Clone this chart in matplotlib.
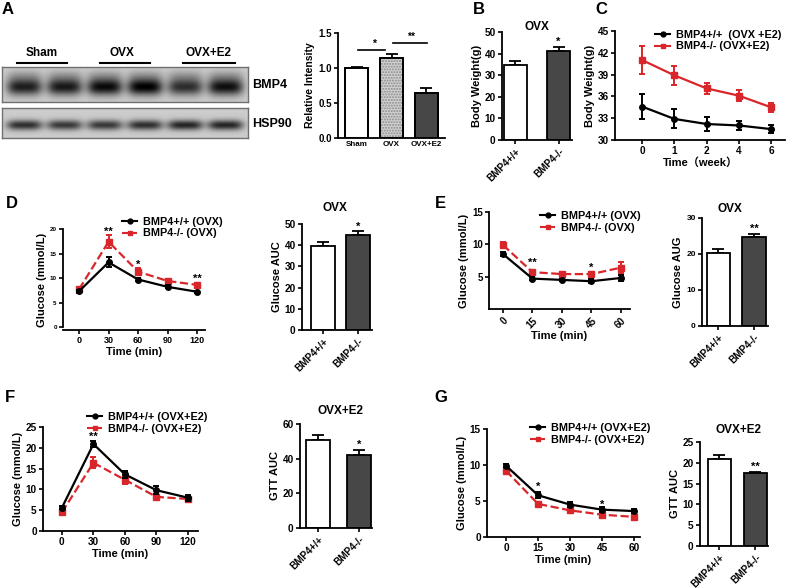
import numpy as np
import matplotlib
matplotlib.use('Agg')
import matplotlib.pyplot as plt
from matplotlib.lines import Line2D

W, H = 789, 588
plt.rcParams['font.family'] = ['Liberation Sans', 'Noto Sans CJK SC', 'DejaVu Sans']
plt.rcParams['font.weight'] = 'bold'
plt.rcParams['axes.labelweight'] = 'bold'
plt.rcParams['axes.linewidth'] = 1.3

RED = '#d9262b'
DARK = '#474747'

# ---------------- data ----------------
# A: western blot band intensities and quantification
blot_groups = ['Sham', 'OVX', 'OVX+E2']
bmp4_band = [0.68, 0.70, 0.76, 0.80, 0.62, 0.74]
hsp90_band = [0.62, 0.58, 0.58, 0.62, 0.66, 0.66]
a_mean = [1.0, 1.15, 0.64]
a_err = [0.01, 0.05, 0.07]

geno = ['BMP4+/+', 'BMP4-/-']
# B
b_mean = [34.9, 41.2]
b_err = [1.6, 1.7]
# C
c_weeks = ['0', '1', '2', '4', '6']
c_wt = [34.6, 32.9, 32.2, 32.0, 31.5]
c_wt_err = [1.7, 1.3, 0.9, 0.6, 0.5]
c_ko = [41.0, 38.9, 37.1, 36.1, 34.5]
c_ko_err = [1.9, 1.3, 0.8, 0.8, 0.6]
# D
d_time = [0, 30, 60, 90, 120]
d_wt = [7.3, 13.2, 9.7, 8.2, 7.2]
d_wt_err = [0.3, 1.0, 0.3, 0.3, 0.2]
d_ko = [7.7, 17.4, 11.3, 9.4, 8.6]
d_ko_err = [0.4, 1.3, 0.7, 0.4, 0.3]
d_auc = [39.6, 45.0]
d_auc_err = [2.0, 1.5]
# E
e_time = [0, 15, 30, 45, 60]
e_wt = [8.5, 4.7, 4.5, 4.3, 4.8]
e_wt_err = [0.3, 0.2, 0.2, 0.3, 0.4]
e_ko = [9.9, 5.7, 5.4, 5.4, 6.4]
e_ko_err = [0.5, 0.3, 0.3, 0.3, 0.8]
e_auc = [20.4, 24.6]
e_auc_err = [0.9, 0.9]
# F
f_time = [0, 30, 60, 90, 120]
f_wt = [5.6, 20.9, 13.6, 9.8, 8.0]
f_wt_err = [0.3, 0.8, 0.9, 1.0, 0.7]
f_ko = [4.5, 16.4, 12.3, 8.2, 7.7]
f_ko_err = [0.6, 1.3, 1.0, 0.6, 0.7]
f_auc = [50.9, 42.2]
f_auc_err = [2.5, 2.9]
# G
g_time = [0, 15, 30, 45, 60]
g_wt = [9.9, 5.8, 4.5, 3.8, 3.6]
g_wt_err = [0.2, 0.4, 0.4, 0.3, 0.3]
g_ko = [9.2, 4.6, 3.7, 3.1, 2.8]
g_ko_err = [0.2, 0.3, 0.3, 0.3, 0.2]
g_auc = [20.8, 17.5]
g_auc_err = [1.0, 0.4]

fig = plt.figure(figsize=(W / 100, H / 100), dpi=100)


def box(l, t, r, b):
    return [l / W, 1 - b / H, (r - l) / W, (b - t) / H]


def ftext(x, y, s, **kw):
    fig.text(x / W, 1 - y / H, s, **kw)


def prism(ax, tickfs=7.2):
    ax.spines['top'].set_visible(False)
    ax.spines['right'].set_visible(False)
    ax.tick_params(direction='out', length=3, width=1.2, labelsize=tickfs, pad=1.5)
    for lab in ax.get_xticklabels() + ax.get_yticklabels():
        lab.set_fontweight('bold')


def bar_panel(bx, vals, errs, xlim, ylim, yticks, ylabel, width, stars, fs=7.2, labfs=8):
    ax = fig.add_axes(box(*bx))
    x = np.arange(len(vals))
    colors = ['white', DARK]
    ax.bar(x, vals, width=width, color=colors, edgecolor='black', linewidth=1.3, zorder=2)
    ax.errorbar(x, vals, yerr=[[0] * len(vals), errs], fmt='none', ecolor='black',
                elinewidth=1.3, capsize=4, capthick=1.3, zorder=1, clip_on=False)
    ax.set_xlim(*xlim)
    ax.set_ylim(*ylim)
    ax.set_yticks(yticks)
    ax.set_xticks(x)
    ax.set_xticklabels(geno, rotation=45, ha='right', rotation_mode='anchor')
    ax.set_ylabel(ylabel, fontsize=labfs, labelpad=2)
    prism(ax, 7.2)
    ax.tick_params(axis='y', labelsize=fs)
    for i, s in stars:
        ax.text(i, vals[i] + errs[i], s, ha='center', va='bottom', fontsize=8)
    return ax


def line_panel(bx, t, wt, wte, ko, koe, xlim, ylim, yticks, xticks, ytfs, xtfs,
               labels, leg_xy, stars, xrot=0, ybounds=None, xlabel='Time (min)'):
    ax = fig.add_axes(box(*bx))
    ax.errorbar(t, wt, yerr=wte, color='black', marker='o', ms=4, lw=1.6,
                elinewidth=1.4, capsize=2.5, capthick=1.4, zorder=3, clip_on=False)
    ax.errorbar(t, ko, yerr=koe, color=RED, marker='s', ms=4, lw=1.6, ls='--',
                elinewidth=1.4, capsize=2.5, capthick=1.4, zorder=2, clip_on=False)
    ax.set_xlim(*xlim)
    ax.set_ylim(*ylim)
    ax.set_yticks(yticks)
    ax.set_xticks(xticks)
    if ybounds is not None:
        ax.spines['left'].set_bounds(*ybounds)
    ax.set_xlabel(xlabel, fontsize=8, labelpad=1)
    ax.set_ylabel('Glucose (mmol/L)', fontsize=8, labelpad=2)
    prism(ax)
    ax.tick_params(axis='y', labelsize=ytfs)
    ax.tick_params(axis='x', labelsize=xtfs)
    if xrot:
        for lab in ax.get_xticklabels():
            lab.set_rotation(xrot)
            lab.set_ha('right')
            lab.set_rotation_mode('anchor')
    for xi, yi, s in stars:
        ax.text(xi, yi, s, ha='center', va='center', fontsize=8)
    handles = [Line2D([], [], color='black', marker='o', ms=3.5, lw=1.5),
               Line2D([], [], color=RED, marker='s', ms=3.5, lw=1.5, ls='--')]
    fig.legend(handles, labels, loc='center left',
               bbox_to_anchor=(leg_xy[0] / W, 1 - leg_xy[1] / H), frameon=False,
               handlelength=1.4, handletextpad=0.5, labelspacing=0.15,
               borderpad=0, borderaxespad=0, prop={'weight': 'bold', 'size': 7.8})
    return ax


# ---------------- A: blot ----------------
def blot(bx, intens, sy, smear):
    ax = fig.add_axes(box(*bx))
    nx, ny = 300, 60
    xs = np.linspace(-0.55, 5.55, nx)
    ys = np.linspace(0, 1, ny)
    X, Y = np.meshgrid(xs, ys)
    img = np.full((ny, nx), 0.80)
    for i, a in enumerate(intens):
        band = np.exp(-((X - i) / 0.44) ** 4) * np.exp(-((Y - 0.57) / sy) ** 2)
        img -= a * band
        if smear:
            img -= 0.15 * np.exp(-((X - i) / 0.44) ** 4) * np.exp(-((Y - 0.25) / 0.18) ** 2)
    img = np.clip(img, 0, 1)
    ax.imshow(img, cmap='gray', vmin=0, vmax=1, aspect='auto',
              extent=(-0.55, 5.55, 1, 0), interpolation='bilinear')
    ax.set_xticks([])
    ax.set_yticks([])
    for s in ax.spines.values():
        s.set_color('#707070')
        s.set_linewidth(1)
    return ax


blot((2, 67, 248, 102), bmp4_band, 0.24, True)
blot((2, 108, 248, 138), hsp90_band, 0.17, False)
for xc, (x0, x1), g in zip([42, 122, 208], [(17, 67), (100, 150), (183, 235)], blot_groups):
    ftext(xc, 53, g, ha='center', va='center', fontsize=8.5, fontweight='bold')
    fig.add_artist(Line2D([x0 / W, x1 / W], [1 - 63 / H, 1 - 63 / H], color='black', lw=1.5))
ftext(252, 85, 'BMP4', ha='left', va='center', fontsize=9, fontweight='bold')
ftext(252, 124, 'HSP90', ha='left', va='center', fontsize=9, fontweight='bold')

# A bar
axA = fig.add_axes(box(338, 33, 445, 138))
xa = np.arange(3)
axA.bar(xa, a_mean, width=0.66, color=['white', '#d2d2d2', DARK], edgecolor='black',
        linewidth=1.3, zorder=2)
axA.bar([1], [a_mean[1]], width=0.66, color='none', edgecolor='#8a8a8a', hatch='......',
        linewidth=0, zorder=2)
axA.bar(xa, a_mean, width=0.66, color='none', edgecolor='black', linewidth=1.3, zorder=3)
axA.errorbar(xa, a_mean, yerr=[[0, 0, 0], a_err], fmt='none', ecolor='black', elinewidth=1.3,
             capsize=4, capthick=1.3, zorder=1)
axA.set_xlim(-0.53, 2.53)
axA.set_ylim(0, 1.5)
axA.set_yticks([0, 0.5, 1.0, 1.5])
axA.set_yticklabels(['0.0', '0.5', '1.0', '1.5'])
axA.set_xticks(xa)
axA.set_xticklabels(blot_groups)
axA.set_ylabel('Relative Intensity', fontsize=7.5, labelpad=2)
prism(axA, 7)
axA.tick_params(axis='x', length=0, labelsize=5.8, pad=2)
axA.plot([0.04, 0.81], [1.26, 1.26], color='black', lw=1.2, clip_on=False)
axA.text(0.5, 1.27, '*', ha='center', va='bottom', fontsize=7.5)
axA.plot([1.04, 2.01], [1.36, 1.36], color='black', lw=1.2, clip_on=False)
axA.text(1.55, 1.37, '**', ha='center', va='bottom', fontsize=7.5)

# ---------------- B ----------------
bar_panel((502, 32, 572, 140), b_mean, b_err, (-0.31, 1.31), (0, 50), [0, 10, 20, 30, 40, 50],
          'Body Weight(g)', 0.53, [(1, '*')])
ftext(537, 27, 'OVX', ha='center', va='center', fontsize=8.5, fontweight='bold')

# ---------------- C ----------------
axC = fig.add_axes(box(615, 31, 785, 140))
xc = np.arange(len(c_weeks))
axC.errorbar(xc, c_wt, yerr=c_wt_err, color='black', marker='o', ms=4, lw=1.6,
             elinewidth=1.4, capsize=2.5, capthick=1.4, zorder=3, clip_on=False)
axC.errorbar(xc, c_ko, yerr=c_ko_err, color=RED, marker='s', ms=4, lw=1.6,
             elinewidth=1.4, capsize=2.5, capthick=1.4, zorder=2, clip_on=False)
axC.set_xlim(-0.84, 4.43)
axC.set_ylim(30, 45)
axC.set_yticks([30, 33, 36, 39, 42, 45])
axC.set_xticks(xc)
axC.set_xticklabels(c_weeks)
axC.set_xlabel('Time（week）', fontsize=8, labelpad=1)
axC.set_ylabel('Body Weight(g)', fontsize=8, labelpad=2)
prism(axC)
hC = [Line2D([], [], color='black', marker='o', ms=3.5, lw=1.5),
      Line2D([], [], color=RED, marker='s', ms=3.5, lw=1.5)]
fig.legend(hC, ['BMP4+/+  (OVX +E2)', 'BMP4-/- (OVX+E2)'], loc='center left',
           bbox_to_anchor=(655 / W, 1 - 40.5 / H), frameon=False, handlelength=1.4,
           handletextpad=0.5, labelspacing=0.15, borderpad=0, borderaxespad=0,
           prop={'weight': 'bold', 'size': 7.8})

# ---------------- D ----------------
line_panel((63, 229, 205, 330), d_time, d_wt, d_wt_err, d_ko, d_ko_err,
           (-16.3, 128), (-0.6, 20), [0, 5, 10, 15, 20], d_time, 4.5, 6.5,
           ['BMP4+/+ (OVX)', 'BMP4-/- (OVX)'], (122, 227.5),
           [(30, 19.4, '**'), (60, 12.7, '*'), (120, 9.8, '**')], ybounds=(0, 20))
bar_panel((302, 224, 372, 330), d_auc, d_auc_err, (-0.6, 1.4), (0, 50), [0, 10, 20, 30, 40, 50],
          'Glucose AUC', 0.69, [(1, '*')])
ftext(335, 208, 'OVX', ha='center', va='center', fontsize=8.5, fontweight='bold')

# ---------------- E ----------------
line_panel((489, 212, 630, 309), e_time, e_wt, e_wt_err, e_ko, e_ko_err,
           (-7.1, 64.6), (0, 15), [5, 10, 15], e_time, 7, 7,
           ['BMP4+/+ (OVX)', 'BMP4-/- (OVX)'], (540, 222),
           [(15, 7.1, '**'), (45, 6.3, '*')], xrot=45)
bar_panel((702, 218, 768, 326), e_auc, e_auc_err, (-0.46, 1.39), (0, 30), [0, 10, 20, 30],
          'Glucose AUG', 0.65, [(1, '**')], fs=6)
ftext(730, 209, 'OVX', ha='center', va='center', fontsize=8.5, fontweight='bold')

# ---------------- F ----------------
line_panel((43, 427, 198, 531), f_time, f_wt, f_wt_err, f_ko, f_ko_err,
           (-18, 129.5), (0, 25), [0, 5, 10, 15, 20, 25], f_time, 7.2, 7.2,
           ['BMP4+/+ (OVX+E2)', 'BMP4-/- (OVX+E2)'], (87, 423),
           [(30, 22.6, '**')])
bar_panel((300, 424, 372, 528), f_auc, f_auc_err, (-0.44, 1.32), (0, 60), [0, 20, 40, 60],
          'GTT AUC', 0.59, [(1, '*')])
ftext(340, 411, 'OVX+E2', ha='center', va='center', fontsize=8.5, fontweight='bold')

# ---------------- G ----------------
line_panel((487, 429, 640, 537), g_time, g_wt, g_wt_err, g_ko, g_ko_err,
           (-8.9, 62.8), (0, 15), [0, 5, 10, 15], g_time, 7.2, 7.2,
           ['BMP4+/+ (OVX+E2)', 'BMP4-/- (OVX+E2)'], (530, 434),
           [(15, 6.9, '*'), (45, 4.4, '*')])
bar_panel((700, 442, 768, 546), g_auc, g_auc_err, (-0.54, 1.35), (0, 25), [0, 5, 10, 15, 20, 25],
          'GTT AUC', 0.64, [(1, '**')])
ftext(738, 430, 'OVX+E2', ha='center', va='center', fontsize=8.5, fontweight='bold')

# panel letters
for (x, y), s in zip([(8, 10), (479, 9), (601, 10), (12, 203), (440, 204), (10, 397), (441, 398)],
                     'ABCDEFG'):
    ftext(x, y, s, ha='center', va='center', fontsize=12, fontweight='bold')

fig.savefig('out.png', dpi=100)
